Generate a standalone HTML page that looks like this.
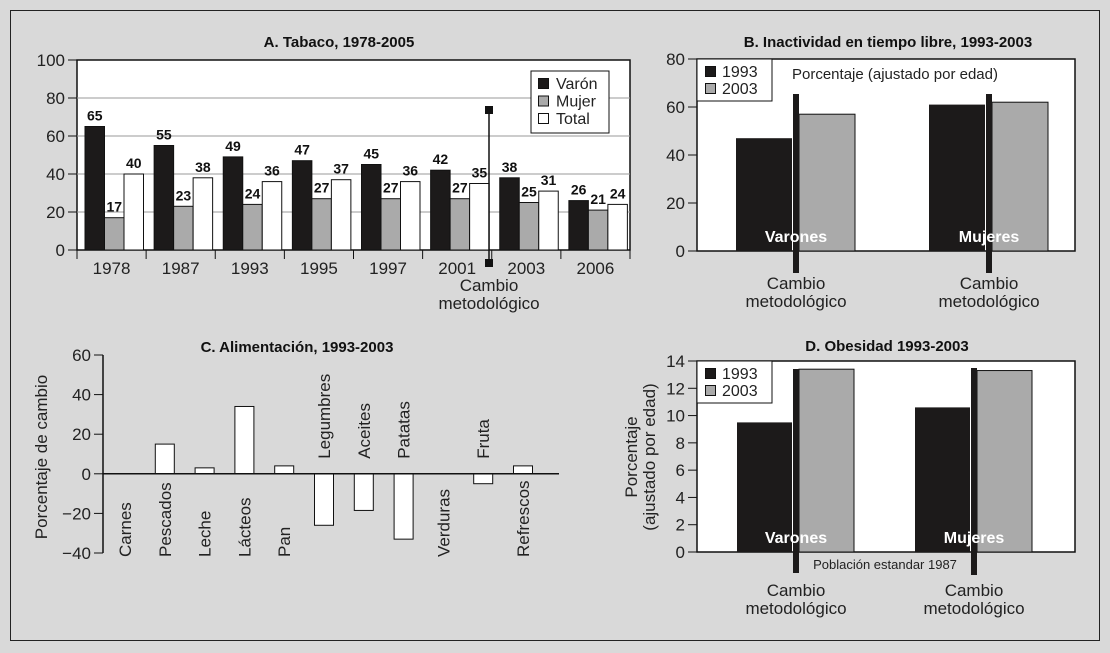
<!DOCTYPE html>
<html><head><meta charset="utf-8"><style>
html,body{margin:0;padding:0;background:#d9d9d9;}
svg{display:block;font-family:"Liberation Sans Narrow","Liberation Sans",sans-serif;}
.t{font-size:17px;fill:#222;}
.b{font-weight:bold;font-size:15px;fill:#111;}
.w{font-weight:bold;font-size:16px;fill:#fff;}
</style></head><body>
<svg id="s" width="1110" height="653" viewBox="0 0 1110 653" xmlns="http://www.w3.org/2000/svg">
<rect x="0" y="0" width="1110" height="653" fill="#d9d9d9"/>
<rect x="10.5" y="10.5" width="1089" height="630" fill="none" stroke="#222" stroke-width="1"/>
</svg>
<script>
// Panel A data
const aCats=["1978","1987","1993","1995","1997","2001","2003","2006"];
const aVaron=[65,55,49,47,45,42,38,26];
const aMujer=[17,23,24,27,27,27,25,21];
const aTotal=[40,38,36,37,36,35,31,24];
const aTicks=[0,20,40,60,80,100];
// Panel B data
const bGroups=["Varones","Mujeres"];
const b1993=[47,61];
const b2003=[57,62];
const bTicks=[0,20,40,60,80];
// Panel C data
const cCats=["Carnes","Pescados","Leche","Lácteos","Pan","Legumbres","Aceites","Patatas","Verduras","Fruta","Refrescos"];
const cVals=[0,15,3,34,4,-26,-18.5,-33,0,-5,4];
const cTicks=[-40,-20,0,20,40,60];
// Panel D data
const dGroups=["Varones","Mujeres"];
const d1993=[9.5,10.6];
const d2003=[13.4,13.3];
const dTicks=[0,2,4,6,8,10,12,14];

const S=document.getElementById('s');
const NS="http://www.w3.org/2000/svg";
function mk(tag,attrs,parent){const e=document.createElementNS(NS,tag);for(const k in attrs)e.setAttribute(k,attrs[k]);(parent||S).appendChild(e);return e;}
function txt(x,y,s,cls,anchor,parent){const e=mk('text',{x:x,y:y,'class':cls,'text-anchor':anchor||'middle'},parent);e.textContent=s;return e;}

// ===== Panel A =====
(function(){
const L=77,R=630,T=60,B=250;
const y=v=>B-(v/100)*(B-T);
const cw=(R-L)/aCats.length;
const g=mk('g',{});


const t=txt(339,47,"A. Tabaco, 1978-2005","b","middle",g);


const bg=mk('rect',{x:L,y:T,width:R-L,height:B-T,fill:'#fff',stroke:'#111','stroke-width':1.5},g);


aTicks.forEach(v=>{
 if(v>0&&v<100){const gl=mk('line',{x1:L,x2:R,y1:y(v),y2:y(v),stroke:'#999','stroke-width':1},g);
 
 }
 const tk=mk('line',{x1:L-9,x2:L,y1:y(v),y2:y(v),stroke:'#111'},g);
 
 
 const tl=txt(L-12,y(v)+6,String(v),"t","end",g);
 
 
});
const bw=19.5;
aCats.forEach((c,i)=>{
 const x0=L+cw*i+8;
 [[aVaron,'#1c1a1a'],[aMujer,'#aaa'],[aTotal,'#fff']].forEach((s,j)=>{
  const v=s[0][i];
  const r=mk('rect',{x:x0+j*bw,y:y(v),width:bw,height:B-y(v),fill:s[1],stroke:'#111','stroke-width':1},g);
  
  
  const lb=txt(x0+j*bw+bw/2,y(v)-6,String(v),"b","middle",g);
  lb.style.fontSize='14px';
  
  
 });
 const tk=mk('line',{x1:L+cw*(i+1),x2:L+cw*(i+1),y1:B,y2:B+9,stroke:'#111'},g);
 
 
 const xl=txt(L+cw*i+cw/2,B+24,c,"t","middle",g);
 
 
});
const tk0=mk('line',{x1:L,x2:L,y1:B,y2:B+9,stroke:'#111'},g);


const mx=489;
const ml=mk('line',{x1:mx,x2:mx,y1:110,y2:263,stroke:'#111','stroke-width':1.5},g);


[110,263].forEach(yy=>{const sq=mk('rect',{x:mx-4,y:yy-4,width:8,height:8,fill:'#111'},g);
 
 });
const c1=txt(mx,291,"Cambio","t","middle",g);


const c2=txt(mx,309,"metodológico","t","middle",g);


const lg=mk('g',{},g);


mk('rect',{x:531,y:71,width:78,height:62,fill:'#fff',stroke:'#111','stroke-width':1},lg);
[["Varón",'#1c1a1a'],["Mujer",'#aaa'],["Total",'#fff']].forEach((e,k)=>{
 const yy=77+k*17.5;
 const sw=mk('rect',{x:538.5,y:yy+1.5,width:10,height:10,fill:e[1],stroke:'#111'},lg);
 
 
 const lt=txt(556,yy+12,e[0],"t","start",lg);
 lt.style.fontSize='16px';
 
 
});
})();

// ===== Panels B & D =====
function pairPanel(cfg){
 const {L,R,T,B,max,ticks,groups,s1,s2,title,titleX,titleY,pos,name,vline,bw}=cfg;
 const y=v=>B-(v/max)*(B-T);
 const g=mk('g',{});
 
 
 const t=txt(titleX,titleY,title,"b","middle",g);
 
 
 const bg=mk('rect',{x:L,y:T,width:R-L,height:B-T,fill:'#fff',stroke:'#111','stroke-width':1.5},g);
 
 
 if(cfg.note){
  const pd=txt(cfg.note[0],cfg.note[1],cfg.note[2],"t","middle",g);
  pd.style.fontSize='13px';
  
  
 }
 ticks.forEach(v=>{
  const tk=mk('line',{x1:L-9,x2:L,y1:y(v),y2:y(v),stroke:'#111'},g);
  
  
  const tl=txt(L-12,y(v)+6,String(v),"t","end",g);
  
  
 });
 groups.forEach((gr,i)=>{
  const c=pos[i];
  const r1=mk('rect',{x:c-bw-4,y:y(s1[i]),width:bw,height:B-y(s1[i]),fill:'#1c1a1a'},g);
  
  
  const r2=mk('rect',{x:c+3,y:y(s2[i]),width:bw,height:B-y(s2[i]),fill:'#aaa',stroke:'#111','stroke-width':1},g);
  
  
  const vl=mk('rect',{x:c-3,y:vline[i][0],width:6,height:vline[i][1]-vline[i][0],fill:'#1c1a1a'},g);
  
  
  const gl=txt(c,B-9,gr,"w","middle",g);
  
  
  const m1=txt(c,cfg.cy,"Cambio","t","middle",g);
  
  
  const m2=txt(c,cfg.cy+18,"metodológico","t","middle",g);
  
  
 });
 const lg=mk('g',{},g);
 
 
 mk('rect',{x:L,y:T,width:75,height:42,fill:'#fff',stroke:'#111','stroke-width':1},lg);
 [["1993",'#1c1a1a'],["2003",'#aaa']].forEach((e,k)=>{
  const yy=T+6+k*17;
  const sw=mk('rect',{x:L+8.5,y:yy+1.5,width:10,height:10,fill:e[1],stroke:'#111'},lg);
  
  
  const lt=txt(L+25,yy+12,e[0],"t","start",lg);
  lt.style.fontSize='16px';
  
  
 });
 return g;
}
const gb=pairPanel({L:697,R:1075,T:59,B:251,max:80,ticks:bTicks,groups:bGroups,s1:b1993,s2:b2003,
 title:"B. Inactividad en tiempo libre, 1993-2003",titleX:888,titleY:47,pos:[796,989],name:'panel-b-inactividad',
 vline:[[94,273],[94,273]],bw:56,cy:289});
const pb=txt(792,79,"Porcentaje (ajustado por edad)","t","start",gb);
pb.style.fontSize='15px';



const gd=pairPanel({L:697,R:1075,T:361,B:552,max:14,ticks:dTicks,groups:dGroups,s1:d1993,s2:d2003,
 title:"D. Obesidad 1993-2003",titleX:887,titleY:351,pos:[796,974],name:'panel-d-obesidad',
 vline:[[369,573],[368,575]],bw:55,cy:596,note:[885,569,"Población estandar 1987"]});
const ya=txt(0,0,"Porcentaje","t","middle",gd);
ya.setAttribute('transform','translate(637,457) rotate(-90)');


const yb=txt(0,0,"(ajustado por edad)","t","middle",gd);
yb.setAttribute('transform','translate(655,457) rotate(-90)');



// ===== Panel C =====
(function(){
 const L=103,R=559,T=355,B=553,min=-40,max=60;
 const y=v=>B-((v-min)/(max-min))*(B-T);
 const g=mk('g',{});
 
 
 const t=txt(297,352,"C. Alimentación, 1993-2003","b","middle",g);
 
 
 const ax=mk('line',{x1:L,x2:L,y1:T,y2:B,stroke:'#111','stroke-width':1.5},g);
 
 
 cTicks.forEach(v=>{
  const tk=mk('line',{x1:L-9,x2:L,y1:y(v),y2:y(v),stroke:'#111'},g);
  
  
  const tl=txt(L-12,y(v)+6,(v<0?'\u2212':'')+Math.abs(v),"t","end",g);
  
  
 });
 const step=39.8, x0=L+22;
 cCats.forEach((c,i)=>{
  const cx=x0+step*i, v=cVals[i];
  if(v!==0){
   const r=mk('rect',{x:cx-9.5,y:Math.min(y(v),y(0)),width:19,height:Math.abs(y(v)-y(0)),fill:'#fff',stroke:'#111','stroke-width':1},g);
   
   
  }
  const lb=txt(0,0,c,"t","start",g);
  if(v<0) lb.setAttribute('transform','translate('+(cx+6)+','+(y(0)-15)+') rotate(-90)');
  else lb.setAttribute('transform','translate('+(cx+6)+','+(B+4)+') rotate(-90)');
  
  
 });
 const zl=mk('line',{x1:L,x2:R,y1:y(0),y2:y(0),stroke:'#111','stroke-width':1.5},g);
 
 
 const yt=txt(0,0,"Porcentaje de cambio","t","middle",g);
 yt.setAttribute('transform','translate(47,457) rotate(-90)');
 
 
})();
</script>
</body></html>
